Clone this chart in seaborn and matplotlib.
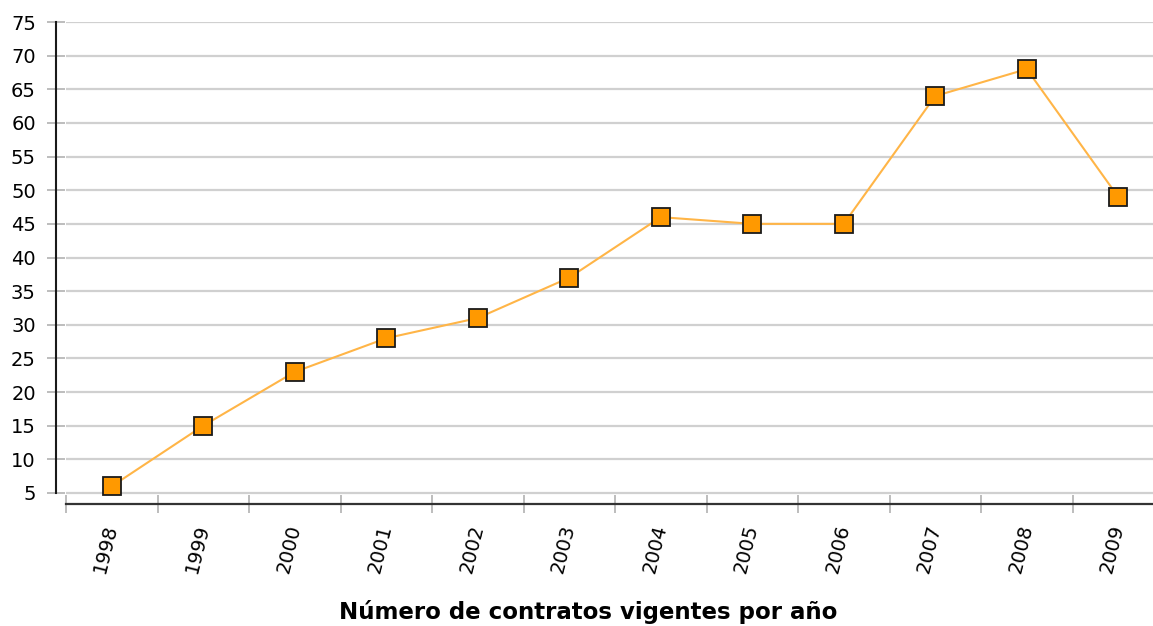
import matplotlib
matplotlib.use("Agg")
import matplotlib.pyplot as plt
import seaborn as sns
import pandas as pd
import numpy as np
from matplotlib.ticker import FixedLocator

years = ["1998", "1999", "2000", "2001", "2002", "2003", "2004", "2005", "2006", "2007", "2008", "2009"]
contratos = [6, 15, 23, 28, 31, 37, 46, 45, 45, 64, 68, 49]
y_ticks = [5, 10, 15, 20, 25, 30, 35, 40, 45, 50, 55, 60, 65, 70, 75]
title = "Número de contratos vigentes por año"

sns.set_style("white")
plt.rcParams['font.family'] = ['DejaVu Sans']
plt.rcParams['text.color'] = 'black'
plt.rcParams['xtick.color'] = 'black'
plt.rcParams['ytick.color'] = 'black'

df = pd.DataFrame({"pos": np.arange(len(years)), "year": years, "value": contratos})

W, H = 1153, 626
fig = plt.figure(figsize=(W / 100, H / 100), dpi=100)
left, right, top, bottom = 66, 1153, 22, 504
ax = fig.add_axes([left / W, 1 - bottom / H, (right - left) / W, (bottom - top) / H])

px_per_cat = 91.5
ax.set_xlim(-0.5, -0.5 + (right - left) / px_per_cat)
px_per_unit = (493 - 22) / 70
ax.set_ylim(5 - (bottom - 493) / px_per_unit, 75)

ax.set_yticks(y_ticks)
ax.yaxis.grid(True, color="#d0d0d0", linewidth=1.6)
ax.xaxis.grid(False)

sns.lineplot(data=df, x="pos", y="value", ax=ax, color="#FFB547", linewidth=1.5,
             marker="s", markersize=12.5, markerfacecolor="#FF9900",
             markeredgecolor="#1a1a1a", markeredgewidth=1.3, zorder=5)

ax.set_xticks(df["pos"])
ax.set_xticklabels(years, rotation=76, rotation_mode="anchor", ha="right", va="center", fontsize=14)
ax.xaxis.set_minor_locator(FixedLocator(np.arange(-0.5, 12, 1)))
ax.tick_params(axis="x", which="major", bottom=True, length=0, pad=15)
ax.tick_params(axis="x", which="minor", bottom=True, length=13.5, direction="inout", color="#b8b8b8", width=1.3)
ax.tick_params(axis="y", which="major", left=True, length=13, direction="inout", color="#bdbdbd", width=1.4,
               labelsize=14, pad=8, labelcolor="black")
ax.tick_params(axis="x", labelcolor="black")

for s in ["top", "right"]:
    ax.spines[s].set_visible(False)
ax.spines["left"].set_position(("outward", 7.2))
ax.spines["left"].set_bounds(5, 75)
ax.spines["left"].set_color("#1a1a1a")
ax.spines["left"].set_linewidth(1.5)
ax.spines["bottom"].set_color("#333333")
ax.spines["bottom"].set_linewidth(1.6)

ax.set_xlabel("")
ax.set_ylabel("")
fig.text(588 / W, 1 - 612 / H, title, ha="center", va="center", fontsize=16.5, fontweight="bold", color="black")

fig.savefig("out.png", dpi=100)
